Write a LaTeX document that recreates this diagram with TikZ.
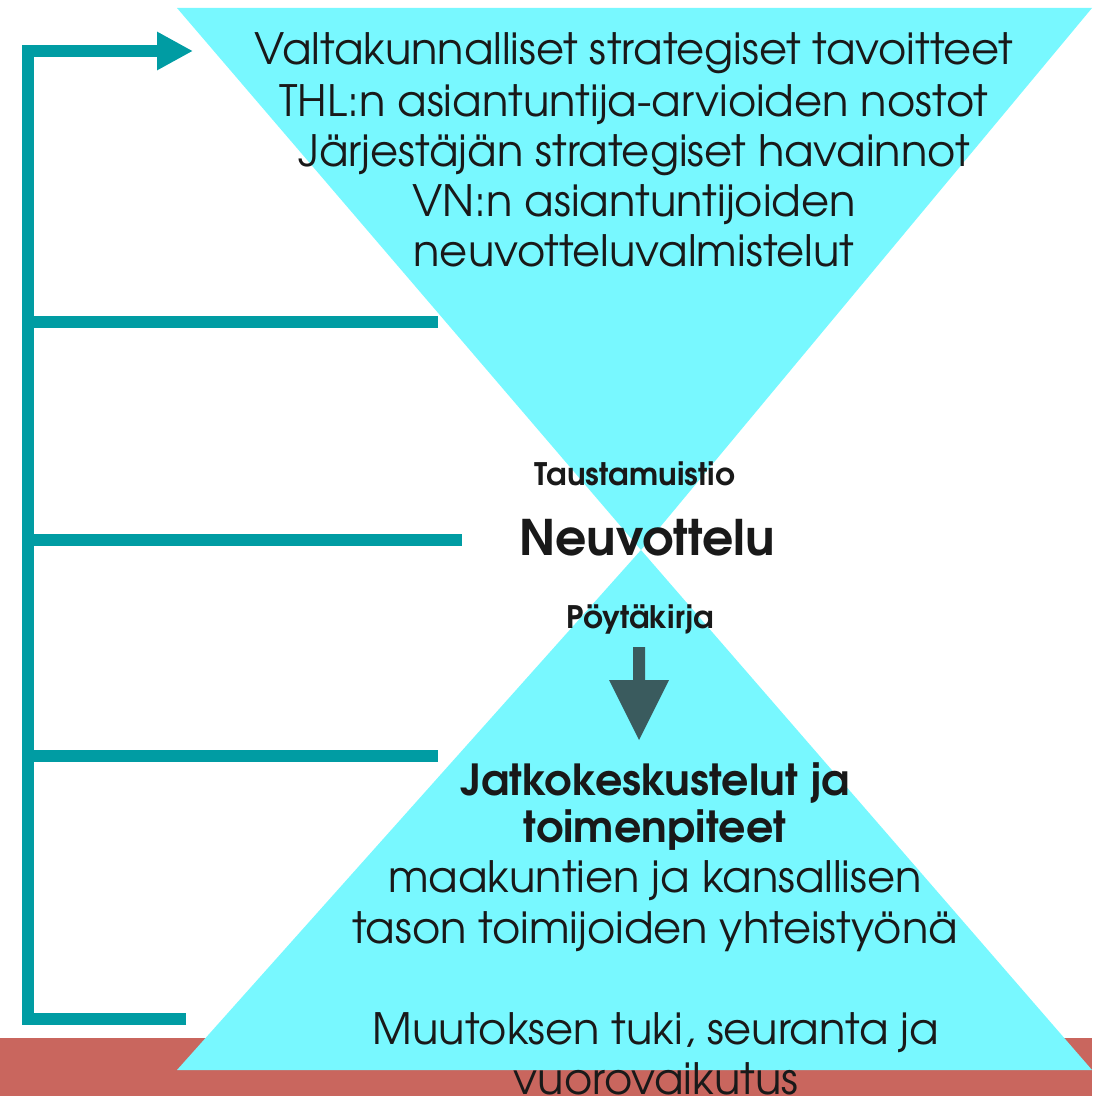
\documentclass[tikz,border=0pt]{standalone}
\usepackage{fontspec}
\setmainfont{TeX Gyre Adventor}
\definecolor{cyanfill}{RGB}{120,248,255}
\definecolor{tealline}{RGB}{0,156,163}
\definecolor{redband}{RGB}{201,102,94}
\definecolor{darkarrow}{RGB}{58,91,94}
\usetikzlibrary{arrows.meta}
\tikzset{
  reg/.style={anchor=base, inner sep=0pt, font=\fontsize{21.6}{25}\selectfont, text=black!90},
  bld/.style={anchor=base, inner sep=0pt, font=\fontsize{21.4}{25}\selectfont\bfseries, text=black!90},
  small/.style={anchor=base, inner sep=0pt, font=\fontsize{15.5}{18}\selectfont\bfseries, text=black!90},
  big/.style={anchor=base, inner sep=0pt, font=\fontsize{24.5}{30}\selectfont\bfseries, text=black!90},
  branch/.style={draw=tealline, line width=6pt},
}
\begin{document}
\begin{tikzpicture}[x=0.5pt,y=-0.5pt]
\useasboundingbox (0,0) rectangle (1092,1096);
\clip (0,0) rectangle (1092,1096);
% red band
\fill[redband] (0,1038) rectangle (1092,1096);
% triangles
\fill[cyanfill] (177,8) -- (1092,8) -- (641,550) -- cycle;
\fill[cyanfill] (177,1070) -- (1092,1070) -- (641,550) -- cycle;
% top texts
\node[reg] (t1) at (634,65) {Valtakunnalliset strategiset tavoitteet};
\node[reg] (t2) at (634,117) {THL:n asiantuntija-arvioiden nostot};
\node[reg] (t3) at (634,167) {Järjestäjän strategiset havainnot};
\node[reg] (t4) at (634,217) {VN:n asiantuntijoiden};
\node[reg] (t5) at (634,267) {neuvotteluvalmistelut};
% middle texts
\node[small] (tm) at (635,485) {Taustamuistio};
\node[big] (neu) at (647,555) {Neuvottelu};
\node[small] (pk) at (640,628) {Pöytäkirja};
% dark arrow
\fill[darkarrow] (633,647) -- (645,647) -- (645,680) -- (669,680) -- (639,740) -- (609,680) -- (633,680) -- cycle;
% bottom texts
\node[bld] (b1) at (655,795) {Jatkokeskustelut ja};
\node[bld] (b2) at (655,842) {toimenpiteet};
\node[reg] (b3) at (655,892) {maakuntien ja kansallisen};
\node[reg] (b4) at (655,943) {tason toimijoiden yhteistyönä};
\node[reg] (b5) at (656,1044) {Muutoksen tuki, seuranta ja};
\node[reg] (b6) at (656,1094) {vuorovaikutus};
% teal bracket
\coordinate (ctop) at (27.5,51);
\coordinate (cbot) at (27.5,1019);
\coordinate (etop) at (193,51);
\coordinate (ebot) at (186,1019);
\coordinate (e1) at (438,322);
\coordinate (e2) at (462,540);
\coordinate (e3) at (438,756);
\draw[branch, line join=miter, -{Triangle[length=18pt,width=18pt]}] (ebot) -- (cbot) -- (ctop) -- (etop);
\draw[branch] (27.5,322) -- (e1);
\draw[branch] (27.5,540) -- (e2);
\draw[branch] (27.5,756) -- (e3);
\end{tikzpicture}
\end{document}
